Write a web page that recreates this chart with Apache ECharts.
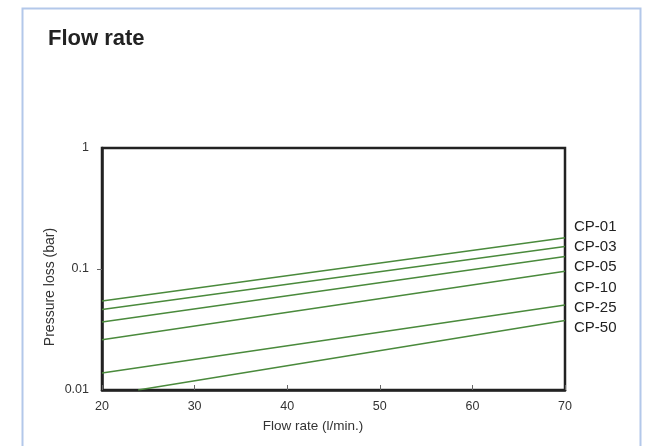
<!DOCTYPE html>
<html>
<head>
<meta charset="utf-8">
<script src="https://cdn.jsdelivr.net/npm/echarts@6/dist/echarts.min.js"></script>
<style>
html,body{margin:0;padding:0;background:#fff;}
#chart{width:650px;height:446px;}
</style>
</head>
<body>
<div id="chart"></div>
<script>
// Data (pressure loss in bar vs flow rate in l/min)
var seriesNames = ['CP-01', 'CP-03', 'CP-05', 'CP-10', 'CP-25', 'CP-50'];
var flowCP01 = [20, 70], lossCP01 = [0.0545, 0.181];
var flowCP03 = [20, 70], lossCP03 = [0.0462, 0.1535];
var flowCP05 = [20, 70], lossCP05 = [0.0365, 0.1266];
var flowCP10 = [20, 70], lossCP10 = [0.026, 0.0958];
var flowCP25 = [20, 70], lossCP25 = [0.0138, 0.0504];
var flowCP50 = [23.9, 70], lossCP50 = [0.01, 0.0376];
var xTicks = [20, 30, 40, 50, 60, 70];
var yTicks = [0.01, 0.1, 1];
var yInnerTicks = [0.1];

var flows = [flowCP01, flowCP03, flowCP05, flowCP10, flowCP25, flowCP50];
var losses = [lossCP01, lossCP03, lossCP05, lossCP10, lossCP25, lossCP50];

var FONT = '"Liberation Sans", Arial, sans-serif';
var lineColor = '#4a8a3c';

var series = seriesNames.map(function (name, i) {
  return {
    name: name,
    type: 'line',
    symbol: 'none',
    silent: true,
    lineStyle: { color: lineColor, width: 1.5 },
    data: flows[i].map(function (x, j) { return [x, losses[i][j]]; })
  };
});

var graphics = [{
  type: 'rect',
  shape: { x: 22.5, y: 8.5, width: 618, height: 500 },
  style: { fill: 'none', stroke: '#b3c8ea', lineWidth: 2 },
  z: -1
}];
seriesNames.forEach(function (name, i) {
  graphics.push({
    type: 'text',
    left: 574,
    top: 219 + i * 20.3,
    style: { text: name, fill: '#222', font: '15px ' + FONT }
  });
});

var chart = echarts.init(document.getElementById('chart'), null, { renderer: 'canvas' });
chart.setOption({
  animation: false,
  backgroundColor: '#fff',
  title: {
    text: 'Flow rate',
    left: 43,
    top: 23,
    textStyle: { fontFamily: FONT, fontWeight: 'bold', fontSize: 22, color: '#222' }
  },
  grid: {
    left: 102, right: 85, top: 148, bottom: 56,
    show: true, borderColor: '#222', borderWidth: 2.5, backgroundColor: 'transparent'
  },
  xAxis: {
    type: 'value',
    min: xTicks[0], max: xTicks[xTicks.length - 1], interval: 10,
    name: 'Flow rate (l/min.)',
    nameLocation: 'middle',
    nameGap: 29,
    nameMoveOverlap: false,
    nameTextStyle: { fontFamily: FONT, fontSize: 13.5, color: '#333', padding: [0, 41, 0, 0] },
    axisLine: { show: true, lineStyle: { color: '#222', width: 2.5 } },
    axisTick: { show: true, inside: true, length: 5, lineStyle: { color: '#666', width: 1 } },
    axisLabel: { fontFamily: FONT, fontSize: 12.5, color: '#333', margin: 10 },
    splitLine: { show: false }
  },
  yAxis: {
    type: 'log',
    logBase: 10,
    min: yTicks[0], max: yTicks[yTicks.length - 1],
    name: 'Pressure loss (bar)',
    nameLocation: 'middle',
    nameRotate: 90,
    nameGap: 45,
    nameMoveOverlap: false,
    nameTextStyle: { fontFamily: FONT, fontSize: 14, color: '#333', padding: [0, 36, 0, 0] },
    axisLine: { show: true, lineStyle: { color: '#222', width: 2.5 } },
    axisTick: { show: true, inside: false, length: 5, customValues: yInnerTicks, lineStyle: { color: '#666', width: 1 } },
    axisLabel: {
      fontFamily: FONT, fontSize: 12.5, color: '#333', margin: 13,
      formatter: function (v) { return String(+v.toPrecision(6)); }
    },
    splitLine: { show: false },
    minorTick: { show: false }
  },
  series: series,
  graphic: graphics
});
</script>
</body>
</html>
